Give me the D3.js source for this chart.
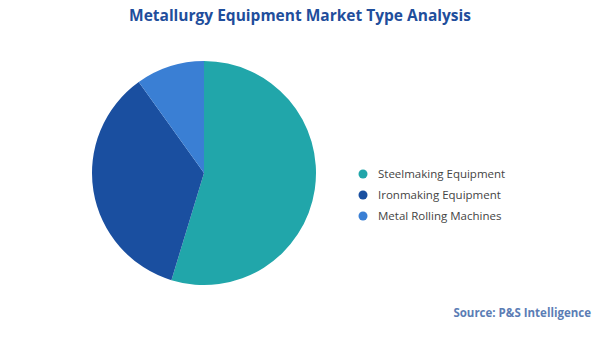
<!DOCTYPE html>
<html>
<head>
<meta charset="utf-8">
<script src="https://cdn.jsdelivr.net/npm/d3@7"></script>
<style>
  html, body { margin: 0; padding: 0; background: #ffffff; }
  svg { display: block; font-family: "Open Sans", "Noto Sans", sans-serif; }
</style>
</head>
<body>
<svg id="chart" width="600" height="337"></svg>
<script>
// Market share by equipment type (%)
const categories = ["Steelmaking Equipment", "Ironmaking Equipment", "Metal Rolling Machines"];
const shares = [54.7, 35.4, 9.9];
const colors = ["#21a6aa", "#1a4fa0", "#3a7fd4"];

const svg = d3.select("#chart");
const W = 600, H = 337;
const cx = 204, cy = 173, radius = 112;

// Title
svg.append("text")
  .attr("x", W / 2).attr("y", 21)
  .attr("text-anchor", "middle")
  .attr("font-size", 15.5)
  .attr("font-weight", 700)
  .attr("fill", "#1f4e9c")
  .text("Metallurgy Equipment Market Type Analysis");

const color = d3.scaleOrdinal().domain(categories).range(colors);

const pie = d3.pie().sort(null).value(d => d.value);
const arc = d3.arc().innerRadius(0).outerRadius(radius);

const data = categories.map((c, i) => ({ name: c, value: shares[i] }));

svg.append("g")
  .attr("transform", `translate(${cx},${cy})`)
  .selectAll("path")
  .data(pie(data))
  .join("path")
  .attr("d", arc)
  .attr("fill", d => color(d.data.name));

// Legend
const legend = svg.append("g").attr("transform", "translate(363,174)");
const item = legend.selectAll("g")
  .data(categories)
  .join("g")
  .attr("transform", (d, i) => `translate(0,${i * 21})`);
item.append("circle").attr("r", 4.5).attr("fill", d => color(d));
item.append("text")
  .attr("x", 15).attr("y", 4)
  .attr("font-size", 11.5)
  .attr("fill", "#444444")
  .text(d => d);

// Source
svg.append("text")
  .attr("x", 591).attr("y", 317)
  .attr("text-anchor", "end")
  .attr("font-size", 11.5)
  .attr("font-weight", 700)
  .attr("fill", "#5b7db5")
  .text("Source: P&S Intelligence");
</script>
</body>
</html>
